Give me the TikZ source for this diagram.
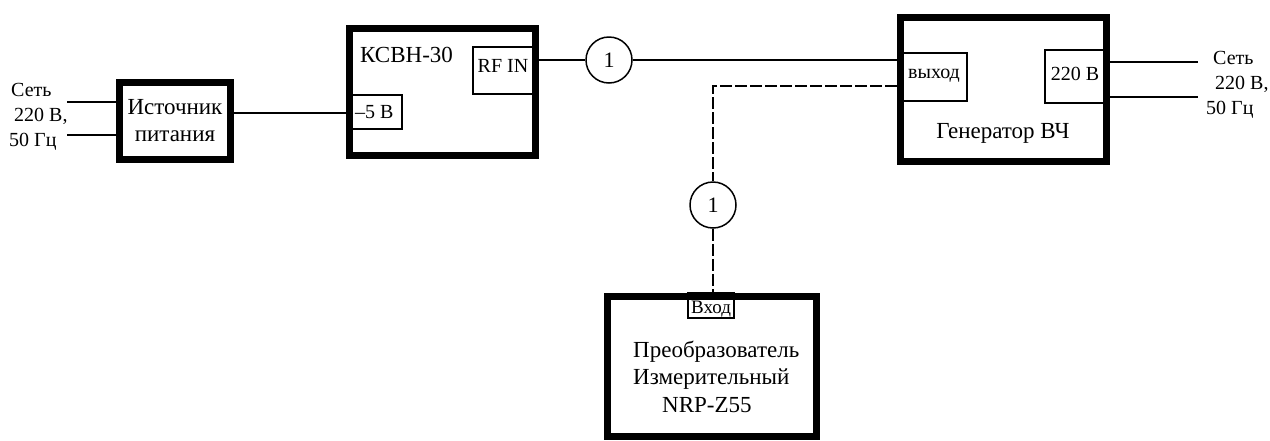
\documentclass[tikz,border=0pt]{standalone}
\usepackage{fontspec}
\setmainfont{Liberation Serif}
\begin{document}
\begin{tikzpicture}[x=1pt,y=-1pt,
  bigbox/.style={draw, line width=7pt, rectangle, inner sep=0pt},
  port/.style={draw, line width=1.4pt, rectangle, inner sep=0pt},
  wire/.style={line width=1.6pt},
  dwire/.style={line width=1.6pt, dash pattern=on 12pt off 3pt},
  mark1/.style={draw, circle, line width=1.5pt, minimum size=46pt, inner sep=0pt, font=\fontsize{22}{24}\selectfont},
  maintxt/.style={inner sep=0pt, font=\fontsize{23}{27}\selectfont},
  lbl/.style={inner sep=0pt, font=\fontsize{20}{24}\selectfont},
  smalltxt/.style={inner sep=0pt, font=\fontsize{19}{20}\selectfont}
]
\useasboundingbox (0,0) rectangle (1270,440);

% main boxes
\node[bigbox, minimum width=111pt, minimum height=77pt, align=center, font=\fontsize{23}{27}\selectfont] (src) at (175,121) {Источник\\питания};
\node[bigbox, minimum width=186pt, minimum height=127pt] (ksvn) at (442.5,92) {};
\node[bigbox, minimum width=206pt, minimum height=144pt] (gen) at (1003.5,89.5) {};
\node[bigbox, minimum width=209pt, minimum height=140pt] (nrp) at (712,366.5) {};

% ports
\node[port, minimum width=60pt, minimum height=47pt] (rfin) at (503,70.5) {};
\node[port, minimum width=50pt, minimum height=34pt] (m5) at (377,112) {};
\node[port, minimum width=68pt, minimum height=48pt] (vyh) at (933,77) {};
\node[port, minimum width=60pt, minimum height=53pt] (v220) at (1075,76.5) {};
\node[port, minimum width=46pt, minimum height=25pt] (vhod) at (711,305.5) {};

% texts
\node[maintxt, anchor=base west] (tksvn) at (360,62) {КСВН-30};
\node[lbl, anchor=base] (trfin) at (503,72) {RF IN};
\node[lbl, anchor=base west] (tm5) at (355,118) {–5 В};
\node[lbl, anchor=base] (tvyh) at (934,78) {выход};
\node[lbl, anchor=base] (tv220) at (1075,80) {220 В};
\node[maintxt, anchor=base] (tgen) at (1003,138) {Генератор ВЧ};
\node[smalltxt, anchor=base] (tvhod) at (711,313) {Вход};
\node[maintxt, anchor=base west] (tnrp1) at (633,357) {Преобразователь};
\node[maintxt, anchor=base west] (tnrp2) at (633,384) {Измерительный};
\node[maintxt, anchor=base west] (tnrp3) at (662,412) {NRP-Z55};

% mains labels left
\node[lbl, anchor=base west] (l1) at (11,96) {Сеть};
\node[lbl, anchor=base west] (l2) at (14,121) {220 В,};
\node[lbl, anchor=base west] (l3) at (9,146) {50 Гц};
% mains labels right
\node[lbl, anchor=base west] (r1) at (1213,64) {Сеть};
\node[lbl, anchor=base west] (r2) at (1215,89) {220 В,};
\node[lbl, anchor=base west] (r3) at (1206,114) {50 Гц};

% markers
\node[mark1] (c1) at (609,60) {1};
\node[mark1] (c2) at (713,205) {1};

% coordinates for free ends
\coordinate (inL1) at (67,102);
\coordinate (inL2) at (67,135);
\coordinate (inR1) at (1198,62);
\coordinate (inR2) at (1198,97);
\coordinate (bend) at (713,86);

% connectors
\draw[wire] (inL1) -- (inL1 -| src.west);
\draw[wire] (inL2) -- (inL2 -| src.west);
\draw[wire] (src.east |- 0,113) -- (ksvn.west |- 0,113);
\draw[wire] (ksvn.east |- c1) -- (c1.west);
\draw[wire] (c1.east) -- (c1.east -| gen.west);
\draw[dwire] (bend -| gen.west) -- (bend) -- (c2.north);
\draw[dwire] (c2.south) -- (c2.south |- nrp.north);
\draw[wire] (inR1 -| gen.east) -- (inR1);
\draw[wire] (inR2 -| gen.east) -- (inR2);
\end{tikzpicture}
\end{document}
